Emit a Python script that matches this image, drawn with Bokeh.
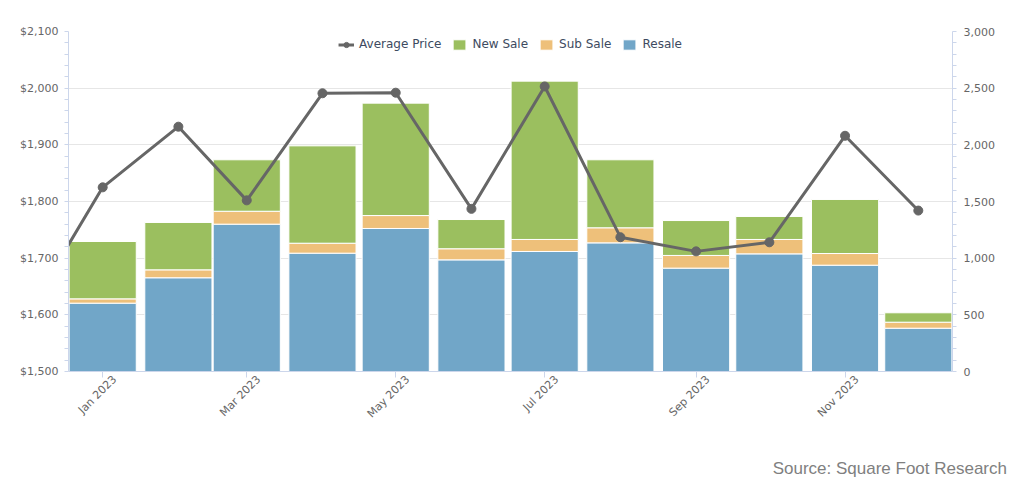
import math
from datetime import datetime
from bokeh.plotting import figure
from bokeh.layouts import column
from bokeh.models import (ColumnDataSource, Range1d, LinearAxis, DatetimeAxis,
                          FixedTicker, NumeralTickFormatter,
                          DatetimeTickFormatter, Legend, LegendItem, Div)
from bokeh.embed import file_html
from bokeh.resources import INLINE

# ---- data ----
months = ["2023-01", "2023-02", "2023-03", "2023-04", "2023-05", "2023-06",
          "2023-07", "2023-08", "2023-09", "2023-10", "2023-11", "2023-12"]
resale = [603, 827, 1300, 1044, 1262, 985, 1059, 1135, 912, 1038, 938, 382]
sub_sale = [38, 70, 114, 88, 114, 98, 106, 133, 112, 127, 103, 53]
new_sale = [506, 418, 454, 859, 992, 258, 1397, 600, 308, 203, 477, 83]

price_months = ["2022-12"] + months
avg_price = [1601, 1825, 1932, 1802, 1991, 1992, 1787, 2003, 1737, 1712, 1728, 1916, 1784]

tick_months = ["2023-01", "2023-03", "2023-05", "2023-07", "2023-09", "2023-11"]

price_ticks = [1500, 1600, 1700, 1800, 1900, 2000, 2100]
unit_ticks = [0, 500, 1000, 1500, 2000, 2500, 3000]

source_text = "Source: Square Foot Research"

# ---- helpers ----
def to_dt(m):
    return datetime.strptime(m + "-01", "%Y-%m-%d")

def to_ms(d):
    return (d - datetime(1970, 1, 1)).total_seconds() * 1000.0

DAY = 86400000.0

bar_src = ColumnDataSource(dict(
    date=[to_ms(to_dt(m)) for m in months],
    resale=resale, sub=sub_sale, new=new_sale))
line_src = ColumnDataSource(dict(
    date=[to_ms(to_dt(m)) for m in price_months], price=avg_price))

BLUE = "#71a6c8"
ORANGE = "#eec07a"
GREEN = "#9bbf5f"
LINE = "#666666"
AXIS_COL = "#ccd6eb"
LABEL_COL = "#666666"

x_start = to_ms(to_dt("2023-01")) - 14 * DAY
x_end = to_ms(to_dt("2023-12")) + 14 * DAY
LABEL_SHIFT = 4.9 * DAY  # rotated labels sit a little right of their tick

p = figure(width=1016, height=458, output_backend="svg", toolbar_location=None,
           x_axis_type="datetime",
           x_range=Range1d(x_start, x_end), y_range=Range1d(1500, 2100),
           min_border_left=68, min_border_right=64, min_border_top=31,
           min_border_bottom=87)
p.outline_line_color = None
p.background_fill_color = "white"
p.extra_y_ranges = {"units": Range1d(0, 3000)}
p.extra_x_ranges = {"xlab": Range1d(x_start - LABEL_SHIFT, x_end - LABEL_SHIFT)}

# bars
bar_rs = p.vbar_stack(["resale", "sub", "new"], x="date", width=27.5 * DAY,
                      color=[BLUE, ORANGE, GREEN], source=bar_src,
                      y_range_name="units", line_color="white", line_width=1)

# line
lr = p.line("date", "price", source=line_src, line_color=LINE, line_width=3)
cr = p.scatter("date", "price", source=line_src, size=9, marker="circle",
               fill_color=LINE, line_color=LINE)

tick_vals = [to_ms(to_dt(m)) for m in tick_months]

# main x axis: line + tick marks only
xa = p.xaxis[0]
xa.ticker = FixedTicker(ticks=tick_vals)
xa.major_label_overrides = {t: "" for t in tick_vals}
xa.axis_line_color = AXIS_COL
xa.major_tick_line_color = AXIS_COL
xa.major_tick_out = 6
xa.major_tick_in = 0
xa.minor_tick_line_color = None
xa.major_label_standoff = 0
xa.major_label_text_font_size = "1px"

# label axis (rotated month labels)
fmt = "%b %Y"
xl = DatetimeAxis(x_range_name="xlab", ticker=FixedTicker(ticks=tick_vals),
                  formatter=DatetimeTickFormatter(days=fmt, months=fmt, years=fmt))
xl.major_label_orientation = math.pi / 4
xl.axis_line_color = None
xl.major_tick_line_color = None
xl.minor_tick_line_color = None
xl.major_tick_out = 0
xl.major_tick_in = 0
xl.major_label_text_color = LABEL_COL
xl.major_label_text_font = "DejaVu Sans"
xl.major_label_text_font_size = "11px"
xl.major_label_standoff = 0
p.add_layout(xl, "below")

ya = p.yaxis[0]
ya.ticker = FixedTicker(ticks=price_ticks,
                        minor_ticks=[1500 + 20 * i for i in range(31)])
ya.formatter = NumeralTickFormatter(format="$0,0")
ya.axis_line_color = AXIS_COL
ya.major_tick_line_color = None
ya.minor_tick_line_color = AXIS_COL
ya.minor_tick_out = 4
ya.minor_tick_in = 0
ya.major_label_text_color = LABEL_COL
ya.major_label_text_font = "DejaVu Sans"
ya.major_label_text_font_size = "11px"
ya.major_label_standoff = 4

ra = LinearAxis(y_range_name="units",
                ticker=FixedTicker(ticks=unit_ticks,
                                   minor_ticks=[100 * i for i in range(31)]),
                formatter=NumeralTickFormatter(format="0,0"))
ra.axis_line_color = AXIS_COL
ra.major_tick_line_color = None
ra.minor_tick_line_color = AXIS_COL
ra.minor_tick_out = 4
ra.minor_tick_in = 0
ra.major_label_text_color = LABEL_COL
ra.major_label_text_font = "DejaVu Sans"
ra.major_label_text_font_size = "11px"
ra.major_label_standoff = 5
p.add_layout(ra, "right")

p.xgrid.grid_line_color = None
p.ygrid.grid_line_color = "#e6e6e6"
p.ygrid.ticker = FixedTicker(ticks=price_ticks)

# legend
legend = Legend(items=[
    LegendItem(label="Average Price", renderers=[lr, cr]),
    LegendItem(label="New Sale", renderers=[bar_rs[2]]),
    LegendItem(label="Sub Sale", renderers=[bar_rs[1]]),
    LegendItem(label="Resale", renderers=[bar_rs[0]]),
], location="top_center", orientation="horizontal")
legend.border_line_color = None
legend.background_fill_alpha = 0
legend.label_text_font = "DejaVu Sans"
legend.label_text_font_size = "12px"
legend.label_text_color = "#3d4a60"
legend.glyph_width = 16
legend.glyph_height = 13
legend.label_standoff = 5
legend.spacing = 10
legend.padding = 2
legend.margin = 6
legend.label_height = 13
p.add_layout(legend)

div = Div(text=source_text, width=1002, height=20,
          styles={"text-align": "right", "font-family": "Liberation Sans, Arial, sans-serif",
                  "font-size": "17px", "color": "#808080", "line-height": "12px",
                  "width": "1002px"})

open("out.html", "w").write(file_html(column(p, div, spacing=0), INLINE))
